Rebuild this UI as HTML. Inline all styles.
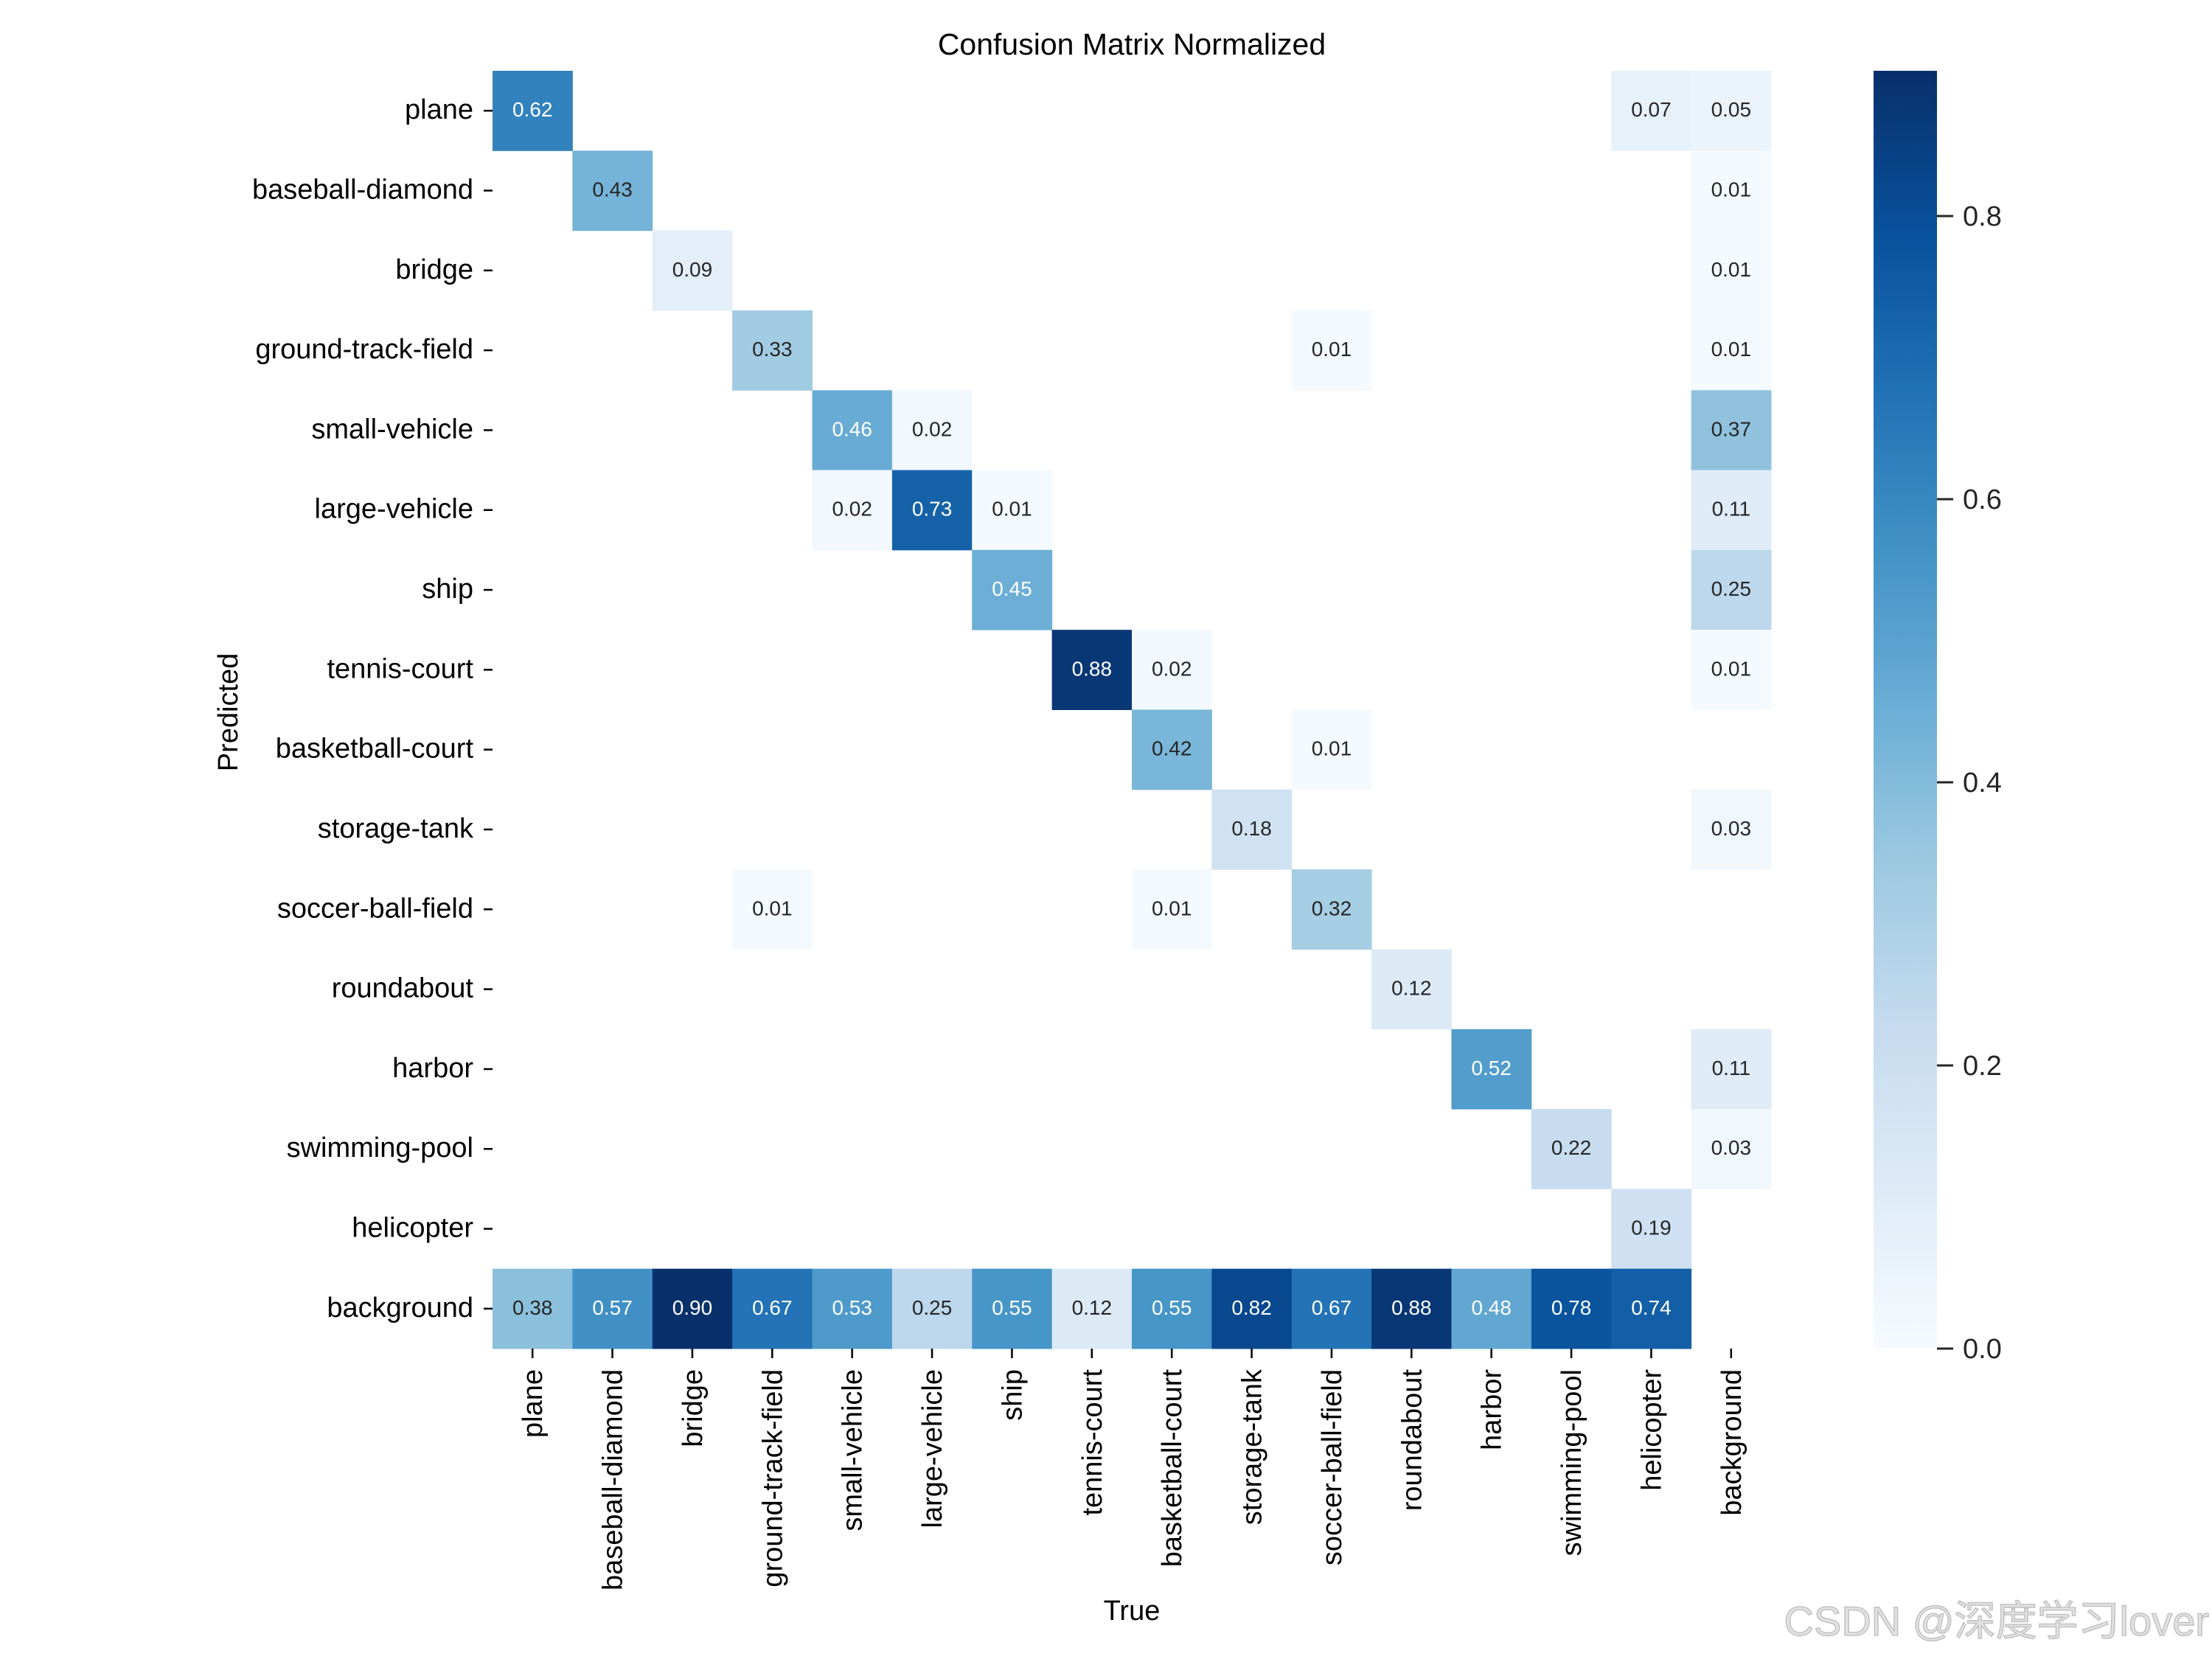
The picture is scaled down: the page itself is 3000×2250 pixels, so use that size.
<!DOCTYPE html>
<html><head><meta charset="utf-8"><style>
html,body{margin:0;padding:0;background:#fff;}
svg{display:block;font-family:"Liberation Sans","Noto Sans CJK SC",sans-serif;}
</style></head><body>
<svg id="chart" width="3000" height="2250" viewBox="0 0 3000 2250" xmlns="http://www.w3.org/2000/svg">
<defs>
<linearGradient id="cbgrad" x1="0" y1="1" x2="0" y2="0">
<stop offset="0" stop-color="#f7fbff"/><stop offset="0.125" stop-color="#deebf7"/><stop offset="0.25" stop-color="#c6dbef"/><stop offset="0.375" stop-color="#9ecae1"/><stop offset="0.5" stop-color="#6baed6"/><stop offset="0.625" stop-color="#4292c6"/><stop offset="0.75" stop-color="#2171b5"/><stop offset="0.875" stop-color="#08519c"/><stop offset="1" stop-color="#08306b"/>
</linearGradient>
</defs>
<text x="1535" y="74" font-size="41" text-anchor="middle" fill="#000">Confusion Matrix Normalized</text>
<text x="1535" y="2197" font-size="38" text-anchor="middle" fill="#000">True</text>
<text x="0" y="0" font-size="38" text-anchor="middle" fill="#000" transform="translate(322,966) rotate(-90)">Predicted</text>
<g id="cells"></g>
<g id="yticks"></g>
<g id="xticks"></g>
<rect x="2541" y="96" width="86" height="1733" fill="url(#cbgrad)"/>
<g id="cbticks"></g>
<text x="2996" y="2218" font-size="56" text-anchor="end" fill="#e2e2e2" stroke="#c2c2c2" stroke-width="1.5">CSDN @深度学习lover</text>
</svg>
<script>
const categories = ["plane","baseball-diamond","bridge","ground-track-field","small-vehicle","large-vehicle","ship","tennis-court","basketball-court","storage-tank","soccer-ball-field","roundabout","harbor","swimming-pool","helicopter","background"];
// rows = predicted, cols = true; 0 = empty
const row_plane = [0.62,0,0,0,0,0,0,0,0,0,0,0,0,0,0.07,0.05];
const row_baseball_diamond = [0,0.43,0,0,0,0,0,0,0,0,0,0,0,0,0,0.01];
const row_bridge = [0,0,0.09,0,0,0,0,0,0,0,0,0,0,0,0,0.01];
const row_ground_track_field = [0,0,0,0.33,0,0,0,0,0,0,0.01,0,0,0,0,0.01];
const row_small_vehicle = [0,0,0,0,0.46,0.02,0,0,0,0,0,0,0,0,0,0.37];
const row_large_vehicle = [0,0,0,0,0.02,0.73,0.01,0,0,0,0,0,0,0,0,0.11];
const row_ship = [0,0,0,0,0,0,0.45,0,0,0,0,0,0,0,0,0.25];
const row_tennis_court = [0,0,0,0,0,0,0,0.88,0.02,0,0,0,0,0,0,0.01];
const row_basketball_court = [0,0,0,0,0,0,0,0,0.42,0,0.01,0,0,0,0,0];
const row_storage_tank = [0,0,0,0,0,0,0,0,0,0.18,0,0,0,0,0,0.03];
const row_soccer_ball_field = [0,0,0,0.01,0,0,0,0,0.01,0,0.32,0,0,0,0,0];
const row_roundabout = [0,0,0,0,0,0,0,0,0,0,0,0.12,0,0,0,0];
const row_harbor = [0,0,0,0,0,0,0,0,0,0,0,0,0.52,0,0,0.11];
const row_swimming_pool = [0,0,0,0,0,0,0,0,0,0,0,0,0,0.22,0,0.03];
const row_helicopter = [0,0,0,0,0,0,0,0,0,0,0,0,0,0,0.19,0];
const row_background = [0.38,0.57,0.90,0.67,0.53,0.25,0.55,0.12,0.55,0.82,0.67,0.88,0.48,0.78,0.74,0];
const matrix = [row_plane,row_baseball_diamond,row_bridge,row_ground_track_field,row_small_vehicle,row_large_vehicle,row_ship,row_tennis_court,row_basketball_court,row_storage_tank,row_soccer_ball_field,row_roundabout,row_harbor,row_swimming_pool,row_helicopter,row_background];
const cbTickValues = [0.0,0.2,0.4,0.6,0.8];
const cbTickLabels = ["0.0","0.2","0.4","0.6","0.8"];
const vmax = 0.9026;

const NS = "http://www.w3.org/2000/svg";
const L = 668, T = 96, R = 2402, B = 1829;
const n = categories.length;
const cw = (R - L) / n, ch = (B - T) / n;
const xPos = i => L + i * cw;
const yPos = j => T + j * ch;
const cbY = v => B - (v / vmax) * (B - T);
const stops = ["#f7fbff","#deebf7","#c6dbef","#9ecae1","#6baed6","#4292c6","#2171b5","#08519c","#08306b"].map(h=>[parseInt(h.slice(1,3),16),parseInt(h.slice(3,5),16),parseInt(h.slice(5,7),16)]);
function blues(v){
  let t = Math.max(0, Math.min(1, v / vmax)) * 8;
  let k = Math.min(7, Math.floor(t)), f = t - k;
  const a = stops[k], b = stops[k+1];
  return "rgb(" + a.map((c,i)=>Math.round(c + (b[i]-c)*f)).join(",") + ")";
}
function mk(tag, attrs){ const e = document.createElementNS(NS, tag); for (const k in attrs) e.setAttribute(k, attrs[k]); return e; }

const gc = document.getElementById("cells");
matrix.forEach((row, r) => {
  row.forEach((v, c) => {
    if (!v) return;
    const rect = mk("rect", {x: xPos(c), y: yPos(r), width: cw + 0.5, height: ch + 0.5, fill: blues(v)});
    
    
    gc.appendChild(rect);
    const t = mk("text", {x: xPos(c) + cw/2, y: yPos(r) + ch/2 + 8, "font-size": 28, "text-anchor": "middle", fill: v >= 0.45 ? "#ffffff" : "#262626"});
    t.textContent = v.toFixed(2);
    
    
    gc.appendChild(t);
  });
});

const gy = document.getElementById("yticks");
categories.forEach((c, j) => {
  const yc = yPos(j) + ch/2;
  const tk = mk("line", {x1: L - 12, x2: L, y1: yc, y2: yc, stroke: "#000", "stroke-width": 2.5});
  
  
  gy.appendChild(tk);
  const t = mk("text", {x: L - 26, y: yc + 11, "font-size": 38, "text-anchor": "end", fill: "#000"});
  t.textContent = c;
  
  
  gy.appendChild(t);
});

const gx = document.getElementById("xticks");
categories.forEach((c, i) => {
  const xc = xPos(i) + cw/2;
  const tk = mk("line", {x1: xc, x2: xc, y1: B, y2: B + 13, stroke: "#000", "stroke-width": 2.5});
  
  
  gx.appendChild(tk);
  const t = mk("text", {x: 0, y: 0, "font-size": 38, "text-anchor": "end", fill: "#000", transform: "translate(" + (xc + 13) + "," + (B + 28) + ") rotate(-90)"});
  t.textContent = c;
  
  
  gx.appendChild(t);
});

const gb = document.getElementById("cbticks");
cbTickValues.forEach((v, i) => {
  const y = cbY(v);
  const tk = mk("line", {x1: 2627, x2: 2649, y1: y, y2: y, stroke: "#262626", "stroke-width": 3});
  
  
  gb.appendChild(tk);
  const t = mk("text", {x: 2662, y: y + 13, "font-size": 38, fill: "#262626"});
  t.textContent = cbTickLabels[i];
  
  
  gb.appendChild(t);
});
</script>
</body></html>
